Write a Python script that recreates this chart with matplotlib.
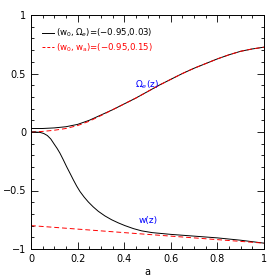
import numpy as np
import matplotlib
matplotlib.use("Agg")
import matplotlib.pyplot as plt
from matplotlib.ticker import MultipleLocator

# Omega_e(z), black (w0, Omega_e) model
a_om = [0.0, 0.05, 0.1, 0.15, 0.2, 0.25, 0.3, 0.35, 0.4, 0.45, 0.5, 0.55,
        0.6, 0.65, 0.7, 0.75, 0.8, 0.85, 0.9, 0.95, 1.0]
om_black = [0.03, 0.03, 0.035, 0.045, 0.065, 0.10, 0.145, 0.19, 0.24, 0.29,
            0.345, 0.40, 0.45, 0.50, 0.545, 0.585, 0.625, 0.66, 0.69, 0.71, 0.725]
# Omega_e(z), red (w0, wa) model
om_red = [0.0, 0.005, 0.015, 0.03, 0.055, 0.092, 0.14, 0.19, 0.24, 0.29,
          0.345, 0.40, 0.45, 0.50, 0.545, 0.585, 0.625, 0.66, 0.69, 0.71, 0.725]

# w(z)
a_w = [0.0, 0.02, 0.04, 0.055, 0.07, 0.085, 0.1, 0.112, 0.124, 0.138, 0.153,
       0.168, 0.182, 0.196, 0.21, 0.228, 0.246, 0.267, 0.289, 0.317, 0.346,
       0.375, 0.403, 0.44, 0.475, 0.52, 0.6, 0.7, 0.8, 0.9, 1.0]
w_black = [0.0, 0.0, -0.004, -0.013, -0.03, -0.06, -0.105, -0.14, -0.18, -0.235,
           -0.297, -0.355, -0.41, -0.462, -0.508, -0.556, -0.598, -0.64, -0.678,
           -0.717, -0.75, -0.777, -0.80, -0.826, -0.845, -0.86, -0.875, -0.89,
           -0.905, -0.925, -0.95]
a_wred = [0.0, 1.0]
w_red = [-0.80, -0.95]

plt.rcParams['font.family'] = 'DejaVu Sans'
fig = plt.figure(figsize=(2.79, 2.79), dpi=100)
ax = fig.add_axes([31 / 279, 30 / 279, 233 / 279, 234 / 279])

ax.plot(a_om, om_black, color='black', lw=0.7)
ax.plot(a_om, om_red, color='red', lw=0.7, ls=(0, (5, 3)))
ax.plot(a_w, w_black, color='black', lw=0.7)
ax.plot(a_wred, w_red, color='red', lw=0.7, ls=(0, (5, 3)))

ax.set_xlim(0, 1)
ax.set_ylim(-1, 1)
ax.xaxis.set_minor_locator(MultipleLocator(0.05))
ax.yaxis.set_minor_locator(MultipleLocator(0.1))
ax.set_xticks([0, 0.2, 0.4, 0.6, 0.8, 1.0])
ax.set_xticklabels(['0', '0.2', '0.4', '0.6', '0.8', '1'])
ax.set_yticks([-1, -0.5, 0, 0.5, 1])
ax.set_yticklabels(['\u22121', '\u22120.5', '0', '0.5', '1'])
ax.tick_params(which='both', direction='in', top=True, right=True,
               labelsize=7, width=0.6)
ax.tick_params(which='major', length=5)
ax.tick_params(which='minor', length=2.5)
for s in ax.spines.values():
    s.set_linewidth(0.7)
ax.set_xlabel('a', fontsize=7, labelpad=2)

# legend
ax.plot([0.046, 0.099], [0.849, 0.849], color='black', lw=0.7)
ax.text(0.107, 0.849, r'$(\mathrm{w_0},\Omega_e)$=(' + '\u22120.95,0.03)',
        fontsize=6.2, color='black', va='center')
ax.plot([0.046, 0.099], [0.724, 0.724], color='red', lw=0.7, ls=(0, (3, 2)))
ax.text(0.107, 0.724, r'$(\mathrm{w_0},\mathrm{w_a})$=(' + '\u22120.95,0.15)',
        fontsize=6.2, color='red', va='center')

ax.text(0.498, 0.40, r'$\Omega_e$(z)', color='blue', fontsize=6.5, ha='center', va='center')
ax.text(0.505, -0.76, 'w(z)', color='blue', fontsize=6.5, ha='center', va='center')

fig.savefig('out.png', dpi=100)
